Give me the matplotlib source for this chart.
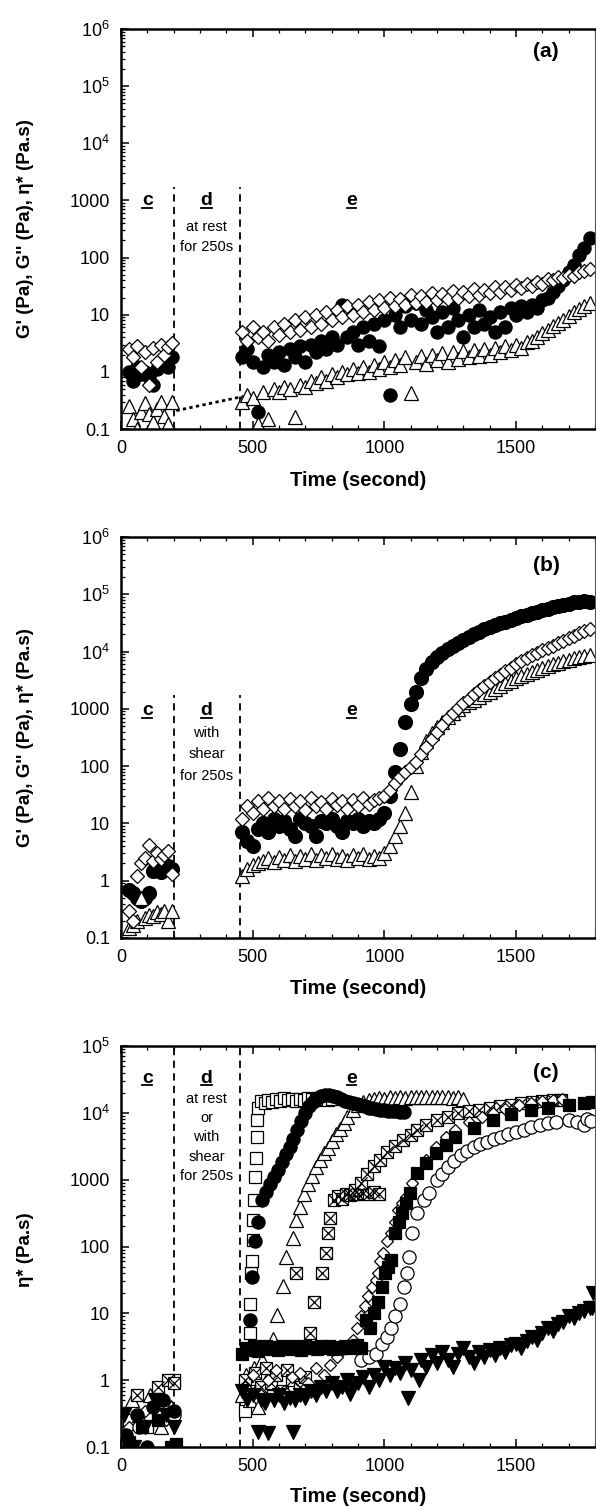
import matplotlib
matplotlib.use('Agg')
import matplotlib.pyplot as plt
from matplotlib.ticker import FixedLocator, FuncFormatter, MultipleLocator, LogLocator, NullFormatter
from matplotlib.lines import Line2D
import numpy as np

plt.rcParams['font.family'] = ['Liberation Sans', 'DejaVu Sans']
plt.rcParams['mathtext.fontset'] = 'custom'
plt.rcParams['mathtext.rm'] = 'Liberation Sans'
plt.rcParams['mathtext.bf'] = 'Liberation Sans:bold'

# ---------------- data ----------------
T_C = [30, 45, 60, 75, 90, 105, 120, 135, 150, 165, 180, 195]
T_E = [460, 480, 500, 520, 540, 560, 580, 600, 620, 640,
       660, 680, 700, 720, 740, 760, 780, 800, 820, 840,
       860, 880, 900, 920, 940, 960, 980, 1000, 1020, 1040,
       1060, 1080, 1100, 1120, 1140, 1160, 1180, 1200, 1220, 1240,
       1260, 1280, 1300, 1320, 1340, 1360, 1380, 1400, 1420, 1440,
       1460, 1480, 1500, 1520, 1540, 1560, 1580, 1600, 1620, 1640,
       1660, 1680, 1700, 1720, 1740, 1760, 1780]

# panel (a): at rest
a_diam_c = [2.5, 1.8, 2.8, 1.2, 2.2, 0.6, 2.6, 1.5, 2.9, 2.0, 2.7, 3.2]
a_circ_c = [1.0, 0.7, 1.2, 0.9, 1.0, 0.8, 0.6, 1.1, 1.3, 1.5, 1.2, 1.8]
a_tri_c = [0.25, 0.15, 0.1, 0.2, 0.28, 0.18, 0.13, 0.22, 0.3, 0.17, 0.12, 0.3]
a_diam_e = [5, 3.5, 6, 4, 5, 3.5, 6, 4.5, 7, 5,
            8, 5.5, 9, 6, 10, 7, 11, 8, 12, 9,
            14, 10, 15, 11, 17, 12, 18, 13, 20, 14,
            19, 15, 22, 16, 21, 17, 24, 18, 23, 19,
            26, 20, 25, 21, 28, 22, 27, 24, 30, 25,
            31, 27, 33, 29, 35, 32, 38, 35, 42, 40,
            45, 44, 50, 48, 55, 58, 62]
a_circ_e = [1.8, 2.5, 1.5, 0.2, 1.2, 2.0, 1.5, 2.2, 1.3, 2.5,
            1.8, 2.8, 1.5, 3.0, 2.2, 3.5, 2.5, 4.0, 3.0, 15,
            4.0, 5.0, 3.0, 6.0, 3.5, 7.0, 2.8, 8.0, 0.4, 10,
            6, 14, 8, 16, 7, 12, 9, 5, 11, 6,
            13, 8, 4, 10, 6, 12, 7, 9, 5, 11,
            6, 13, 10, 14, 11, 15, 13, 18, 20, 25,
            32, 40, 55, 75, 110, 150, 220]
a_tri_e = [0.3, 0.4, 0.35, 0.12, 0.45, 0.15, 0.5, 0.45, 0.55, 0.5,
           0.16, 0.6, 0.55, 0.7, 0.65, 0.8, 0.7, 0.9, 0.8, 1.0,
           0.9, 1.1, 0.95, 1.2, 1.0, 1.3, 1.1, 1.5, 1.2, 1.6,
           1.3, 1.8, 0.42, 1.5, 1.9, 1.4, 2.0, 1.6, 2.1, 1.5,
           2.2, 1.7, 2.3, 1.8, 2.4, 1.9, 2.5, 2.0, 2.6, 2.2,
           2.8, 2.4, 3.0, 2.6, 3.3, 3.5, 4.0, 4.8, 5.5, 6.3,
           7.2, 8.2, 9.5, 11, 12.5, 14, 16]
a_guide_t = [210, 450]
a_guide_v = [0.21, 0.36]

# panel (b): with shear
b_diam_c = [0.3, 0.2, 1.2, 2.0, 2.5, 4.2, 2.2, 3.0, 2.4, 2.8, 3.3, 1.3]
b_circ_c = [0.7, 0.6, 0.5, 0.45, 0.5, 0.6, 1.5, 1.6, 1.4, 1.7, 1.8, 1.6]
b_tri_c = [0.15, 0.17, 0.2, 0.5, 0.22, 0.25, 0.24, 0.28, 0.26, 0.3, 0.2, 0.3]
b_diam_e = [12, 20, 15, 25, 18, 28, 20, 25, 18, 27,
            20, 25, 17, 28, 20, 24, 18, 27, 21, 25,
            18, 26, 20, 28, 22, 26, 28, 30, 38, 50,
            65, 80, 95, 120, 160, 220, 300, 400, 520, 680,
            850, 1050, 1250, 1500, 1800, 2100, 2500, 2900, 3400, 3900,
            4500, 5200, 6000, 6800, 7700, 8600, 9500, 10500, 11500, 12500,
            14000, 15500, 17000, 19000, 21000, 23000, 25000]
b_circ_e = [7, 5, 4, 8, 10, 7, 12, 9, 11, 8,
            6, 12, 10, 9, 6, 11, 10, 12, 9, 7,
            11, 10, 12, 9, 11, 10, 12, 15, 30, 80,
            200, 600, 1200, 2000, 3500, 5000, 6500, 8000, 9500, 11000,
            12500, 14000, 16000, 18000, 20000, 22000, 25000, 27000, 29000, 31000,
            33000, 35000, 38000, 41000, 44000, 47000, 50000, 53000, 56000, 60000,
            63000, 66000, 69000, 72000, 74000, 76000, 72000]
b_tri_e = [1.2, 1.6, 1.9, 2.0, 2.2, 2.5, 2.1, 2.6, 2.3, 2.8,
           2.2, 2.7, 2.4, 2.9, 2.3, 2.8, 2.5, 2.9, 2.4, 2.7,
           2.3, 2.8, 2.5, 2.9, 2.4, 2.7, 2.5, 3.0, 4.0, 6.0,
           9, 15, 35, 100, 180, 270, 380, 480, 600, 720,
           850, 1000, 1150, 1300, 1450, 1600, 1800, 2000, 2200, 2500,
           2800, 3100, 3400, 3700, 4000, 4400, 4800, 5200, 5600, 6000,
           6400, 6800, 7200, 7600, 8000, 8400, 8800]

# panel (c): eta* for several runs
c_sqo_t = [30, 100, 200, 470, 488, 491, 494, 497, 500, 503, 506, 509, 512, 515, 518, 522, 530,
           545, 560, 575, 590, 605, 620, 635, 650, 665, 680, 695, 710, 725, 740, 755, 770, 785, 800]
c_sqo_v = [0.25, 0.2, 1.0, 0.35, 5, 14, 40, 60, 125, 250, 500, 1100, 2100, 4300, 7800, 12000, 15000,
           14000, 15500, 14500, 16000, 15000, 16500, 15500, 16000, 15000, 16000, 15500, 16500, 16000,
           15500, 16500, 16000, 15500, 16000]
c_circf_t = [20, 60, 100, 120, 160, 200, 490, 499, 510, 520, 535,
             550, 565, 580, 595, 610, 625, 640, 655, 670, 685, 700, 715, 730, 745, 760, 775, 790,
             805, 820, 835, 850, 865, 880, 895, 910, 925, 940, 955, 970, 985, 1000, 1015, 1030,
             1045, 1060, 1075]
c_circf_v = [0.15, 0.3, 0.1, 0.4, 0.5, 0.35, 8, 35, 120, 230, 500,
             650, 850, 1100, 1400, 1850, 2400, 3100, 4000, 5500, 7500, 10000, 12500, 14500, 16500,
             18000, 18500, 18500, 18000, 17000, 16000, 15000, 14500, 14000, 13500, 13000, 12500,
             12000, 11800, 11500, 11200, 11000, 10800, 10600, 10500, 10400, 10300]
c_trio_t = [40, 70, 110, 150, 190, 460, 475, 490, 505, 520, 535, 550, 565,
            578, 593, 614, 628, 652, 665, 680, 695, 710, 725, 740, 755, 770, 785, 800, 815, 830, 845, 860,
            880, 900, 920, 940, 960, 980, 1000, 1020, 1040, 1060, 1080, 1100, 1120, 1140, 1160, 1180,
            1200, 1220, 1240, 1260, 1280, 1300]
c_trio_v = [0.5, 0.3, 0.6, 0.2, 0.4, 0.6, 1.2, 0.5, 1.5, 0.4, 2.0, 0.9, 1.3,
            4.2, 9.4, 26, 70, 135, 250, 390, 600, 850, 1150, 1550, 2000, 2500, 3000, 3800, 4800, 5800,
            7000, 8600,
            11000, 13000, 14500, 15500, 16000, 16500, 16000, 17000, 16500, 17000, 16500, 17500, 17000,
            17500, 17000, 17500, 17000, 17500, 17000, 16500, 17000, 16000]
c_xsq_t = [60, 140, 180, 200,
           470, 490, 510, 530, 550, 570, 590, 610, 630, 650, 665, 680, 700,
           716, 733, 765, 780, 785, 795, 810,
           825, 840, 855, 870, 885, 900, 920, 940, 960, 980,
           890, 910, 935, 960, 982, 1010, 1040, 1070, 1100, 1125, 1160, 1200, 1240, 1280, 1320,
           1360, 1400, 1440, 1480, 1520, 1560, 1600, 1640, 1670]
c_xsq_v = [0.6, 0.8, 1.0, 0.9,
           1.0, 0.7, 1.3, 0.8, 1.5, 0.9, 1.2, 0.7, 1.4, 1.0, 40, 0.8, 1.1,
           5, 15, 40, 80, 160, 270, 500,
           560, 520, 600, 580, 620, 600, 640, 600, 650, 620,
           700, 900, 1200, 1600, 2000, 2600, 3200, 3900, 4600, 5500, 6500, 7800, 8800, 9800, 10500,
           11200, 12000, 12600, 13200, 13800, 14300, 14800, 15300, 15600]
c_dia_t = [30, 90, 170,
           470, 500, 530, 560, 590, 620, 650, 680, 710, 740, 770,
           795, 820, 838, 860, 881, 895, 910, 925, 938, 952, 967, 975, 985, 995, 1011, 1025, 1040,
           1053, 1068, 1083, 1105, 1125, 1160, 1198, 1235, 1270, 1320, 1370, 1414, 1460, 1510, 1557,
           1600, 1640, 1675]
c_dia_v = [0.2, 0.35, 0.25,
           0.8, 1.2, 0.6, 1.0, 1.4, 0.7, 1.1, 1.3, 0.9, 1.5, 1.2,
           1.7, 2.2, 2.8, 3.3, 4.0, 6.0, 9.0, 13, 18, 25, 32, 40, 60, 80, 120, 160, 230,
           350, 450, 550, 900, 1250, 2000, 3100, 4300, 5500, 7200, 8700, 10000, 11500, 13000, 14000,
           15000, 15500, 16000]
c_sqf_t = [30, 80, 140, 190, 210,
           460, 475, 490, 505, 520, 535, 550, 565, 580, 595, 610, 625, 640, 655, 670, 685, 700, 715,
           730, 745, 760, 775, 790, 805, 820, 835, 850, 865, 880, 895, 910,
           931, 945, 960, 975, 990, 1003, 1015, 1025, 1040, 1055, 1068, 1083, 1097, 1125, 1160, 1198,
           1235, 1270, 1340, 1414, 1480, 1557, 1620, 1700, 1760, 1788]
c_sqf_v = [0.12, 0.2, 0.25, 0.1, 0.11,
           2.5, 3.0, 2.8, 3.2, 2.7, 3.0, 3.3, 2.9, 3.1, 2.8, 3.2, 3.0, 2.9, 3.3, 3.0, 2.8, 3.2, 3.0,
           3.1, 2.9, 3.3, 3.0, 3.2, 2.9, 3.1, 3.0, 3.3, 3.0, 3.2, 3.4, 3.0,
           8, 6, 10, 15, 25, 40, 50, 63, 160, 230, 315, 450, 630, 1250, 1800, 2500,
           3300, 4300, 6000, 7800, 9500, 11000, 12000, 13000, 14000, 14500]
c_circo_t = [70, 200, 910, 940, 967, 990, 1011, 1025, 1040, 1060, 1075, 1085, 1095, 1105, 1125,
             1150, 1170, 1200, 1220, 1242, 1265, 1290, 1315, 1341, 1365, 1390, 1415, 1443, 1470,
             1500, 1530, 1557, 1590, 1620, 1650, 1701, 1730, 1759, 1770, 1785]
c_circo_v = [0.2, 0.3, 2.0, 2.2, 2.5, 3.5, 4.5, 6, 9, 14, 25, 40, 70, 160, 315,
             500, 630, 1000, 1200, 1550, 1900, 2300, 2700, 3100, 3400, 3700, 4000, 4300, 4800,
             5200, 5600, 6100, 6500, 7000, 7200, 7800, 7200, 6600, 8000, 7500]
c_trid_t = [10, 50, 90, 130, 170, 200,
            460, 480, 500, 520, 530, 545, 560, 580, 600, 620,
            640, 655, 660, 680, 700, 720, 740, 760, 780, 800,
            820, 840, 860, 870, 880, 900, 920, 940, 960, 980,
            1000, 1020, 1040, 1060, 1080, 1090, 1100, 1130, 1140, 1160,
            1180, 1200, 1220, 1240, 1260, 1280, 1300, 1320, 1340, 1360,
            1380, 1400, 1420, 1440, 1460, 1480, 1500, 1520, 1540, 1560,
            1580, 1600, 1620, 1640, 1660, 1680, 1700, 1720, 1740, 1760,
            1780, 1790, 1792]
c_trid_v = [0.3, 0.1, 0.2, 0.5, 0.3, 0.2,
            0.7, 0.5, 0.6, 0.17, 0.5, 0.45, 0.16, 0.5, 0.6, 0.45,
            0.55, 0.17, 0.5, 0.6, 0.55, 0.7, 0.6, 0.8, 0.7, 0.9,
            0.7, 0.8, 1.0, 0.63, 0.8, 0.9, 1.1, 0.8, 1.2, 1.0,
            1.6, 1.2, 1.5, 1.3, 1.8, 0.55, 1.4, 1.0, 2.0, 1.6,
            2.4, 1.8, 2.6, 2.0, 1.6, 2.5, 3.0, 2.2, 1.8, 2.6,
            2.2, 2.8, 2.4, 3.0, 2.6, 3.4, 3.5, 3.0, 3.8, 4.5,
            4.0, 5.0, 6.0, 5.5, 7.0, 7.5, 9.0, 8.5, 10, 11,
            12, 12, 20]

Y_TICKS_AB = [0.1, 1, 10, 100, 1000, 1e4, 1e5, 1e6]
Y_TICKS_C = [0.1, 1, 10, 100, 1000, 1e4, 1e5]
X_TICKS = [0, 500, 1000, 1500]
STEP_BOUNDS = [200, 450]

# ---------------- figure ----------------
W, H = 596, 1508
fig = plt.figure(figsize=(W / 100, H / 100), dpi=100)
fig.patch.set_facecolor('white')


def ax_rect(top_px, bot_px):
    return [121 / W, 1 - bot_px / H, 474 / W, (bot_px - top_px) / H]


axA = fig.add_axes(ax_rect(29, 429))
axB = fig.add_axes(ax_rect(537, 938))
axC = fig.add_axes(ax_rect(1046, 1447))


def yfmt(v, pos):
    e = int(round(np.log10(v)))
    if e >= 4:
        return r'$\mathregular{10^{%d}}$' % e
    if e >= 0:
        return '%d' % int(round(v))
    return '0.1'


def style(ax, yticks):
    ax.set_yscale('log')
    ax.set_xlim(0, 1800)
    ax.set_ylim(yticks[0], yticks[-1])
    ax.yaxis.set_major_locator(FixedLocator(yticks))
    ax.yaxis.set_major_formatter(FuncFormatter(yfmt))
    ax.yaxis.set_minor_locator(LogLocator(base=10, subs=np.arange(2, 10)))
    ax.yaxis.set_minor_formatter(NullFormatter())
    ax.xaxis.set_major_locator(FixedLocator(X_TICKS))
    ax.xaxis.set_minor_locator(MultipleLocator(100))
    ax.tick_params(which='both', direction='in', top=True, right=False, labelsize=13)
    ax.tick_params(which='major', length=6, width=1.1)
    ax.tick_params(which='minor', length=3, width=0.9)
    ax.tick_params(axis='y', pad=8)
    ax.tick_params(axis='x', pad=8)
    for s in ['left', 'bottom', 'top']:
        ax.spines[s].set_linewidth(1.8)
    ax.spines['right'].set_linewidth(0.8)
    ax.spines['right'].set_color('#555555')


OPEN = dict(ls='none', mfc='white', mec='black', mew=0.9)
FILL = dict(ls='none', mfc='black', mec='black', mew=0.9)

for ax in (axA, axB, axC):
    style(ax, Y_TICKS_AB if ax is not axC else Y_TICKS_C)

# panel (a)
axA.plot(T_C, a_circ_c, 'o', ms=9.5, **FILL)
axA.plot(T_E, a_circ_e, 'o', ms=9.5, **FILL)
axA.plot(T_C, a_tri_c, '^', ms=9.5, **OPEN)
axA.plot(T_E, a_tri_e, '^', ms=9.5, **OPEN)
axA.plot(T_C, a_diam_c, 'D', ms=7.5, **OPEN)
axA.plot(T_E, a_diam_e, 'D', ms=7.5, **OPEN)
axA.plot(a_guide_t, a_guide_v, ls=(0, (1.2, 1.2)), color='black', lw=2)

# panel (b)
axB.plot(T_C, b_circ_c, 'o', ms=10, **FILL)
axB.plot(T_E, b_circ_e, 'o', ms=10, **FILL)
axB.plot(T_C, b_tri_c, '^', ms=9.5, **OPEN)
axB.plot(T_E, b_tri_e, '^', ms=9.5, **OPEN)
axB.plot(T_C, b_diam_c, 'D', ms=7.5, **OPEN)
axB.plot(T_E, b_diam_e, 'D', ms=7.5, **OPEN)

# panel (c)
axC.plot(c_sqo_t, c_sqo_v, 's', ms=9, **OPEN)
axC.plot(c_trio_t, c_trio_v, '^', ms=9.5, **OPEN)
axC.plot(c_xsq_t, c_xsq_v, 's', ms=9, **OPEN)
axC.plot(c_xsq_t, c_xsq_v, 'x', ms=9, ls='none', color='black', mew=0.9)
axC.plot(c_dia_t, c_dia_v, 'D', ms=6.5, **OPEN)
axC.plot(c_circo_t, c_circo_v, 'o', ms=9.5, **OPEN)
axC.plot(c_sqf_t, c_sqf_v, 's', ms=9, **FILL)
axC.plot(c_circf_t, c_circf_v, 'o', ms=9.5, **FILL)
axC.plot(c_trid_t, c_trid_v, 'v', ms=9.5, **FILL)

# step boundaries
for ax, ytop in ((axA, 0.605), (axB, 0.605), (axC, 1.0)):
    for xb in STEP_BOUNDS:
        ax.axvline(xb, ymin=0, ymax=ytop, color='black', lw=1.3, ls=(0, (4, 3)), zorder=1)

# region labels
under = []
LBL = dict(fontsize=14, fontweight='bold', ha='center', va='baseline')
for ax, yb in ((axA, 0.56), (axB, 0.555), (axC, 0.908)):
    for xl, s in ((100, 'c'), (325, 'd'), (875, 'e')):
        t = ax.text(xl, yb, s, transform=ax.get_xaxis_transform(), **LBL)
        under.append(t)

TXT = dict(fontsize=10.5, ha='center', va='center')
for s, yy in (('at rest', 0.505), ('for 250s', 0.455)):
    axA.text(325, yy, s, transform=axA.get_xaxis_transform(), **TXT)
for s, yy in (('with', 0.51), ('shear', 0.46), ('for 250s', 0.405)):
    axB.text(325, yy, s, transform=axB.get_xaxis_transform(), **TXT)
for s, yy in (('at rest', 0.868), ('or', 0.82), ('with', 0.773), ('shear', 0.723), ('for 250s', 0.676)):
    axC.text(325, yy, s, transform=axC.get_xaxis_transform(), **TXT)

for ax, s, yy in ((axA, '(a)', 0.943), (axB, '(b)', 0.93), (axC, '(c)', 0.933)):
    ax.text(0.897, yy, s, transform=ax.transAxes, fontsize=15, fontweight='bold',
            ha='center', va='center')

# axis titles
for yc in (480, 988, 1497):
    fig.text(358 / W, 1 - yc / H, 'Time (second)', fontsize=14.5, fontweight='bold',
             ha='center', va='center')
for yc in (229, 738):
    fig.text(26 / W, 1 - yc / H, "G' (Pa), G'' (Pa), \u03b7* (Pa.s)", fontsize=13.5,
             fontweight='bold', rotation=90, ha='center', va='center')
fig.text(26 / W, 1 - 1250 / H, "\u03b7* (Pa.s)", fontsize=13.5, fontweight='bold',
         rotation=90, ha='center', va='center')

# underline the region letters
fig.canvas.draw()
rend = fig.canvas.get_renderer()
for t in under:
    bb = t.get_window_extent(rend)
    y = bb.y0 + 1.5
    fig.add_artist(Line2D([bb.x0 + 0.5, bb.x1 - 0.5], [y, y], transform=None,
                          color='black', lw=1.3))

fig.savefig('out.png', dpi=100, facecolor='white')
